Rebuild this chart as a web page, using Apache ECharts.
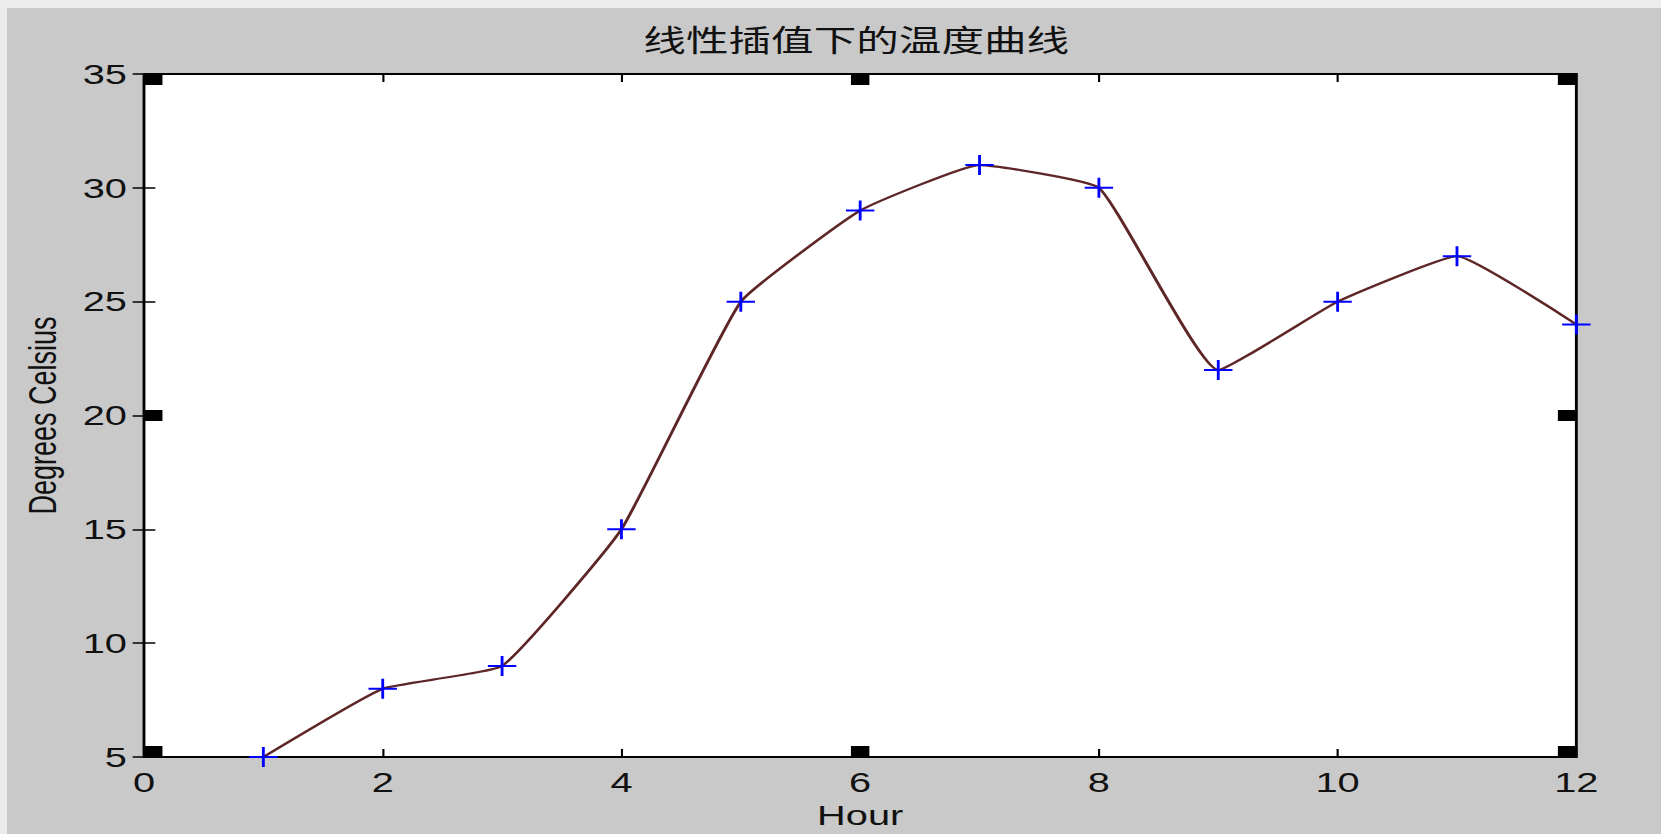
<!DOCTYPE html>
<html>
<head>
<meta charset="utf-8">
<script src="https://cdn.jsdelivr.net/npm/echarts@6/dist/echarts.min.js"></script>
<style>
  html, body { margin: 0; padding: 0; width: 1661px; height: 834px; overflow: hidden; background: #ececec; }
  #bg { position: absolute; left: 7px; top: 8px; right: 0; bottom: 0; background: #c9c9c9; }
  #chart { position: absolute; left: 0; top: 0; width: 1170px; height: 834px; transform: scaleX(1.42); transform-origin: 0 0; }
</style>
</head>
<body>
<div id="bg"></div>
<div id="chart"></div>
<script>
// ---- data ----
const titleText = '线性插值下的温度曲线';
const xName = 'Hour';
const yName = 'Degrees Celsius';
const hours = [1, 2, 3, 4, 5, 6, 7, 8, 9, 10, 11, 12];
const temps = [5, 8, 9, 15, 25, 29, 31, 30, 22, 25, 27, 24];
const X_MIN = 0, X_MAX = 12, X_STEP = 2;
const Y_MIN = 5, Y_MAX = 35, Y_STEP = 5;

// ---- chart ----
const chart = echarts.init(document.getElementById('chart'), null, { renderer: 'svg' });

const xMid = (X_MIN + X_MAX) / 2, yMid = (Y_MIN + Y_MAX) / 2;
const handlePts = [];
[X_MIN, xMid, X_MAX].forEach(x => {
  [Y_MIN, yMid, Y_MAX].forEach(y => {
    if (x === xMid && y === yMid) return;
    const dx = x === X_MIN ? 6.5 : (x === X_MAX ? -6.5 : 0);
    const dy = y === Y_MAX ? 5.5 : (y === Y_MIN ? -5.5 : 0);
    handlePts.push({ value: [x, y], symbolOffset: [dx, dy] });
  });
});

const font = 'Liberation Sans, Arial, sans-serif';
const tickCommon = { show: true, inside: true, length: 8, lineStyle: { color: '#000', width: 1.5 } };

const option = {
  animation: false,
  backgroundColor: 'transparent',
  title: {
    text: titleText,
    left: 603, top: 23, padding: 0,
    textAlign: 'center',
    textStyle: { fontFamily: 'Noto Sans CJK SC, sans-serif', fontSize: 30, fontWeight: 'normal', color: '#111' }
  },
  grid: {
    left: 101.4, right: 59.9, top: 74, bottom: 77,
    show: true, backgroundColor: '#fff', borderColor: '#000', borderWidth: 2,
    containLabel: false, outerBoundsMode: 'none'
  },
  xAxis: [{
    type: 'value', min: X_MIN, max: X_MAX, interval: X_STEP, position: 'bottom',
    name: xName, nameLocation: 'middle', nameGap: 44, nameMoveOverlap: false,
    nameTextStyle: { fontFamily: font, fontSize: 28, color: '#111' },
    axisLine: { show: false }, axisTick: tickCommon, splitLine: { show: false },
    axisLabel: { margin: 11, fontFamily: font, fontSize: 28, color: '#111' }
  }, {
    type: 'value', min: X_MIN, max: X_MAX, interval: X_STEP, position: 'top',
    axisLine: { show: false }, axisTick: tickCommon, splitLine: { show: false },
    axisLabel: { show: false }
  }],
  yAxis: [{
    type: 'value', min: Y_MIN, max: Y_MAX, interval: Y_STEP, position: 'left',
    name: yName, nameLocation: 'middle', nameGap: 58, nameMoveOverlap: false,
    nameTextStyle: { fontFamily: 'Liberation Sans Narrow, Arial Narrow, sans-serif', fontSize: 27, color: '#111' },
    axisLine: { show: false }, axisTick: tickCommon, splitLine: { show: false },
    axisLabel: { margin: 12, fontFamily: font, fontSize: 28, color: '#111' }
  }, {
    type: 'value', min: Y_MIN, max: Y_MAX, interval: Y_STEP, position: 'right',
    axisLine: { show: false }, axisTick: tickCommon, splitLine: { show: false },
    axisLabel: { show: false }
  }],
  series: [{
    type: 'line',
    xAxisIndex: 0, yAxisIndex: 0,
    data: hours.map((h, i) => [h, temps[i]]),
    smooth: 0.12,
    showSymbol: true,
    symbol: 'path://M0,9H20V11H0Z M9,0H11V20H9Z',
    symbolSize: [20, 20],
    itemStyle: { color: '#0000ff', opacity: 1 },
    lineStyle: { color: '#5e2626', width: 2.2 },
    emphasis: { disabled: true },
    clip: false,
    z: 3
  }, {
    type: 'scatter',
    xAxisIndex: 0, yAxisIndex: 0,
    data: handlePts,
    symbol: 'rect',
    symbolSize: [13, 11],
    itemStyle: { color: '#000', opacity: 1 },
    silent: true,
    clip: false,
    z: 4
  }]
};
chart.setOption(option);
</script>
</body>
</html>
